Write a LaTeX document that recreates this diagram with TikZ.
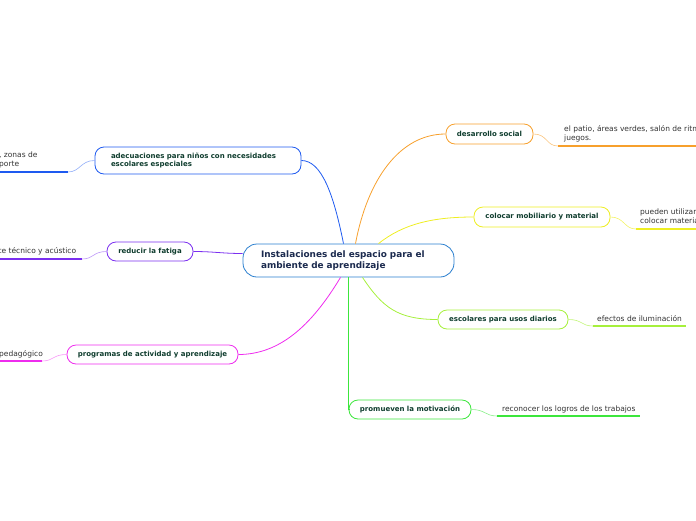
\documentclass[tikz,border=0pt]{standalone}
\usepackage{fontspec}
\setmainfont{DejaVu Sans}
\usetikzlibrary{calc}
\definecolor{cOrange}{HTML}{F7A02C}
\definecolor{cYellow}{HTML}{EEEE22}
\definecolor{cLime}{HTML}{A6F03C}
\definecolor{cGreen}{HTML}{3CE63C}
\definecolor{cBlue}{HTML}{1E5AF0}
\definecolor{cPurple}{HTML}{7B2FF0}
\definecolor{cMagenta}{HTML}{EE2CEE}
\definecolor{cCenter}{HTML}{2A7FCF}
\definecolor{topictext}{HTML}{0F3D2E}
\definecolor{centertext}{HTML}{1B2A4E}
\definecolor{leaftext}{HTML}{333333}
\tikzset{
  topic/.style={draw, rounded corners=9pt, line width=0.8pt, fill=white,
    font=\bfseries\fontsize{7}{8.8}\selectfont, text=topictext, inner sep=0pt, align=center},
  centerbox/.style={draw=cCenter, rounded corners=14pt, line width=0.8pt, fill=white,
    font=\bfseries\fontsize{8.9}{11}\selectfont, text=centertext, inner xsep=18pt, inner ysep=0pt,
    align=left, text width=175pt, minimum width=211pt, minimum height=33pt},
  leaf/.style={font=\fontsize{7.5}{9}\selectfont, text=leaftext, align=left, inner sep=0pt, anchor=north west},
  conn/.style={line width=0.8pt},
  leafconn/.style={line width=0.6pt},
  uline/.style={line width=1.6pt}
}
\begin{document}
\begin{tikzpicture}[x=1pt,y=-1pt]
\useasboundingbox (0,0) rectangle (696,520);
% center
\node[centerbox] (c) at (348.5,260.5) {Instalaciones del espacio para el\\ambiente de aprendizaje};
% topics
\node[topic, draw=cOrange, minimum width=87pt, minimum height=20pt] (ds) at (489.5,134) {desarrollo social};
\node[topic, draw=cYellow, minimum width=136pt, minimum height=20pt] (cm) at (542,217) {colocar mobiliario y material};
\node[topic, draw=cLime, minimum width=130pt, minimum height=19pt] (ep) at (503,319.5) {escolares para usos diarios};
\node[topic, draw=cGreen, minimum width=122pt, minimum height=19pt] (pm) at (410,409.5) {promueven la motivación};
\node[topic, draw=cBlue, minimum width=206pt, minimum height=27pt, align=left, text width=174pt] (ad) at (198,160.5) {adecuaciones para niños con necesidades\\escolares especiales};
\node[topic, draw=cPurple, minimum width=86pt, minimum height=19pt] (rf) at (150,251.5) {reducir la fatiga};
\node[topic, draw=cMagenta, minimum width=171pt, minimum height=19pt] (pa) at (152.5,354.5) {programas de actividad y aprendizaje};
% underline coordinates
\coordinate (u1a) at (558,146); \coordinate (u1b) at (700,146);
\coordinate (u2a) at (636,229); \coordinate (u2b) at (700,229);
\coordinate (u3a) at (593,326); \coordinate (u3b) at (686,326);
\coordinate (u4a) at (497,416); \coordinate (u4b) at (640,416);
\coordinate (u5a) at (68,172); \coordinate (u5b) at (-5,172);
\coordinate (u6a) at (82,259); \coordinate (u6b) at (-5,259);
\coordinate (u7a) at (42,361); \coordinate (u7b) at (-5,361);
% leaf texts
\node[leaf] (l1) at (564,125.5) {el patio, áreas verdes, salón de ritm\\juegos.};
\node[leaf] (l2) at (640,208.5) {pueden utilizar\\colocar materia};
\node[leaf] (l3) at (597,315.5) {efectos de iluminación};
\node[leaf] (l4) at (502,405.5) {reconocer los logros de los trabajos};
\node[leaf] (l5) at (-1,151.5) {, zonas de\\porte};
\node[leaf] (l6) at (-1.5,247.5) {te técnico y acústico};
\node[leaf] (l7) at (-1,350.5) {pedagógico};
% center connectors
\draw[conn, cOrange] ([xshift=7pt]c.north) .. controls +(12,-64) and +(-46,0) .. (ds.west);
\draw[conn, cYellow] ([xshift=30pt]c.north) .. controls +(25,-20) and +(-40,0) .. (cm.west);
\draw[conn, cLime] ([xshift=14pt]c.south) .. controls +(20,30) and +(-40,0) .. (ep.west);
\draw[conn, cGreen] (c.south) -- (c.south |- pm.west) -- (pm.west);
\draw[conn, cBlue] ([xshift=-5pt]c.north) .. controls +(-10,-50) and +(20,0) .. (ad.east);
\draw[conn, cPurple] ([yshift=7pt]c.west) .. controls +(-20,0) and +(20,0) .. (rf.east);
\draw[conn, cMagenta] ([xshift=-8pt]c.south) .. controls +(-30,50) and +(40,0) .. (pa.east);
% leaf connectors
\draw[leafconn, cOrange!60] (ds.east) .. controls +(14,0) and +(-12,0) .. (u1a);
\draw[leafconn, cYellow!70] (cm.east) .. controls +(14,0) and +(-12,0) .. (u2a);
\draw[leafconn, cLime!70] (ep.east) .. controls +(14,0) and +(-12,0) .. (u3a);
\draw[leafconn, cGreen!60] (pm.east) .. controls +(14,0) and +(-12,0) .. (u4a);
\draw[leafconn, cBlue!50] (ad.west) .. controls +(-14,0) and +(12,0) .. (u5a);
\draw[leafconn, cPurple!50] (rf.west) .. controls +(-14,0) and +(12,0) .. (u6a);
\draw[leafconn, cMagenta!50] (pa.west) .. controls +(-14,0) and +(12,0) .. (u7a);
% underlines
\draw[uline, cOrange] (u1a) -- (u1b);
\draw[uline, cYellow] (u2a) -- (u2b);
\draw[uline, cLime] (u3a) -- (u3b);
\draw[uline, cGreen] (u4a) -- (u4b);
\draw[uline, cBlue] (u5a) -- (u5b);
\draw[uline, cPurple] (u6a) -- (u6b);
\draw[uline, cMagenta] (u7a) -- (u7b);
\end{tikzpicture}
\end{document}
